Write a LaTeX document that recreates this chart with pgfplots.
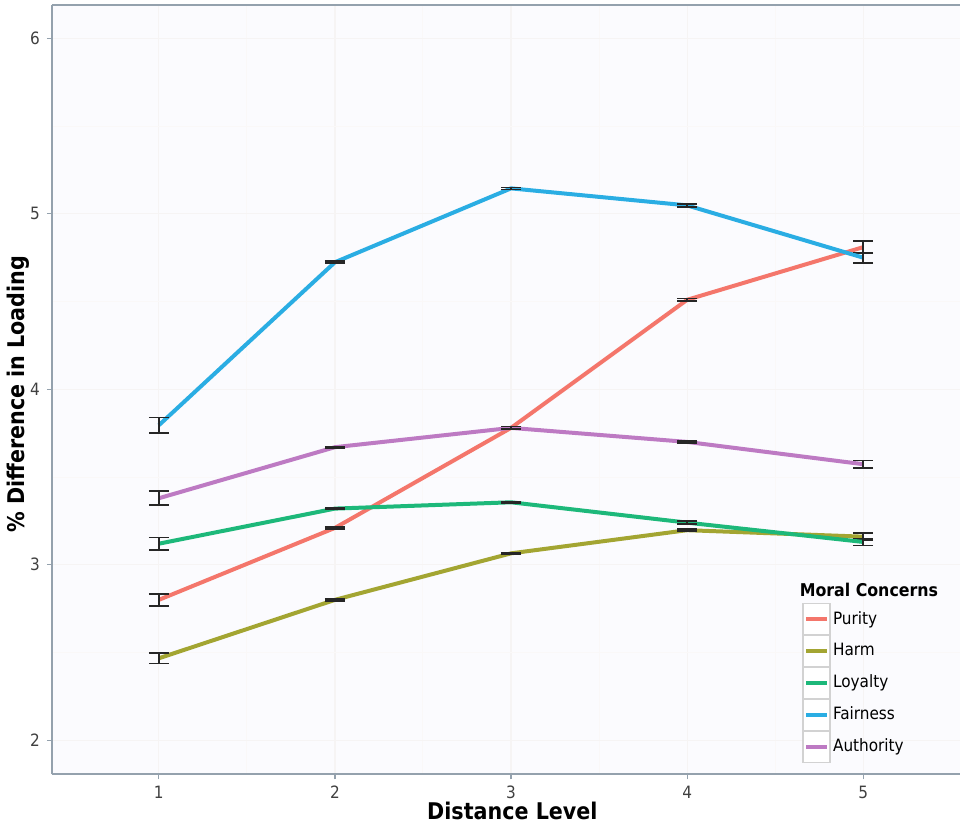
\documentclass[border=0pt]{standalone}
\usepackage{pgfplots}
\pgfplotsset{compat=1.18}
\usepackage{fontspec}
\setmainfont{DejaVu Sans Condensed}
\definecolor{cPur}{HTML}{F4766B}
\definecolor{cHar}{HTML}{A3A532}
\definecolor{cLoy}{HTML}{1DB87A}
\definecolor{cFai}{HTML}{2AADE3}
\definecolor{cAut}{HTML}{BD7AC3}
\definecolor{axgray}{rgb}{0.58,0.63,0.68}
\definecolor{gridc}{rgb}{0.965,0.955,0.955}
\definecolor{panelbg}{rgb}{0.985,0.985,0.995}
\pgfplotstableread{
x y e
1 2.80 0.035
2 3.21 0.006
3 3.78 0.006
4 4.51 0.008
5 4.81 0.035
}\purity
\pgfplotstableread{
x y e
1 2.467 0.03
2 2.80 0.005
3 3.065 0.005
4 3.197 0.006
5 3.16 0.02
}\harm
\pgfplotstableread{
x y e
1 3.12 0.035
2 3.32 0.005
3 3.356 0.005
4 3.24 0.008
5 3.13 0.02
}\loyalty
\pgfplotstableread{
x y e
1 3.795 0.045
2 4.724 0.006
3 5.145 0.006
4 5.048 0.008
5 4.75 0.03
}\fairness
\pgfplotstableread{
x y e
1 3.379 0.04
2 3.67 0.005
3 3.78 0.008
4 3.70 0.006
5 3.573 0.02
}\authority
\begin{document}
\begin{tikzpicture}
\begin{axis}[
  width=454.5pt, height=385pt, scale only axis,
  xmin=0.393, xmax=5.55, ymin=1.806, ymax=6.19,
  xtick={1,2,3,4,5}, ytick={2,3,4,5,6},
  minor x tick num=1, minor y tick num=1,
  grid=both,
  major grid style={gridc, line width=0.6pt},
  minor grid style={gridc!60!white, line width=0.5pt},
  minor tick length=0pt,
  axis lines*=left,
  axis line style={axgray, line width=0.9pt},
  tick align=outside, major tick length=2.5pt,
  tick style={axgray, line width=0.6pt},
  /pgf/number format/assume math mode=true,
  ticklabel style={font=\fontsize{8.5}{10}\selectfont, text=black!75},
  axis background/.style={fill=panelbg},
  xlabel={Distance Level},
  ylabel={\% Difference in Loading},
  every axis x label/.style={at={(axis description cs:0.507,0)}, anchor=center, yshift=-18.5pt, font=\bfseries\fontsize{11.5}{13}\selectfont},
  every axis y label/.style={at={(axis description cs:0,0.494)}, anchor=center, rotate=90, yshift=17pt, font=\bfseries\fontsize{11.5}{13}\selectfont},
  legend image code/.code={
    \draw[gray!35, fill=white, line width=0.6pt] (0pt,-7.7pt) rectangle (13.5pt,7.7pt);
    \draw[#1] (1.5pt,0pt) -- (12pt,0pt);
  },
  legend style={at={(rel axis cs:0.826,0.223)}, anchor=north west, draw=none, fill=none,
    font=\fontsize{8.5}{10}\selectfont, row sep=0pt, inner sep=0pt,
    nodes={inner ysep=0pt, inner xsep=1.2pt}},
  legend cell align=left,
  every axis plot/.append style={line width=2pt, no markers,
    error bars/y dir=both, error bars/y explicit,
    error bars/error mark=|,
    error bars/error bar style={black!85, line width=0.8pt},
    error bars/error mark options={black!85, mark size=5pt, line width=0.8pt}},
]
\addplot[cPur] table[x=x, y=y, y error=e] {\purity};
\addlegendentry{Purity}
\addplot[cHar] table[x=x, y=y, y error=e] {\harm};
\addlegendentry{Harm}
\addplot[cLoy] table[x=x, y=y, y error=e] {\loyalty};
\addlegendentry{Loyalty}
\addplot[cFai] table[x=x, y=y, y error=e] {\fairness};
\addlegendentry{Fairness}
\addplot[cAut] table[x=x, y=y, y error=e] {\authority};
\addlegendentry{Authority}
\draw[axgray, line width=0.9pt] (rel axis cs:0,1) -- (rel axis cs:1,1);
\node[anchor=west, font=\bfseries\fontsize{8.8}{10}\selectfont, inner sep=0pt] at (rel axis cs:0.823,0.240) {Moral Concerns};
\end{axis}
\path (-26pt,-25.5pt) rectangle (454.5pt,387.5pt);
\end{tikzpicture}
\end{document}
